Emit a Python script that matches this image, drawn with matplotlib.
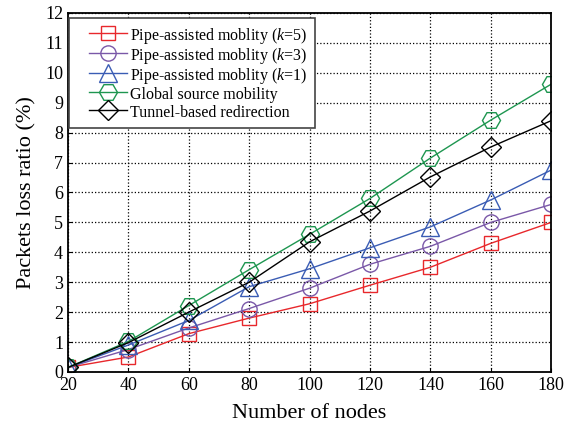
import matplotlib
matplotlib.use("Agg")
import matplotlib.pyplot as plt
from matplotlib.lines import Line2D
from matplotlib.legend_handler import HandlerLine2D

plt.rcParams['font.family'] = ['Liberation Serif', 'DejaVu Serif']
plt.rcParams['mathtext.fontset'] = 'custom'
plt.rcParams['mathtext.it'] = 'Liberation Serif:italic'
plt.rcParams['mathtext.rm'] = 'Liberation Serif'

# data
nodes = [20, 40, 60, 80, 100, 120, 140, 160, 180]
pipe_k5 = [0.15, 0.5, 1.28, 1.8, 2.28, 2.9, 3.5, 4.3, 5.0]
pipe_k3 = [0.15, 0.75, 1.47, 2.12, 2.8, 3.6, 4.2, 5.0, 5.6]
pipe_k1 = [0.15, 0.9, 1.72, 2.85, 3.45, 4.15, 4.85, 5.75, 6.75]
global_src = [0.15, 1.02, 2.22, 3.42, 4.6, 5.8, 7.15, 8.42, 9.62]
tunnel = [0.15, 0.98, 2.0, 3.0, 4.35, 5.38, 6.52, 7.52, 8.4]

labels = ["Pipe-assisted moblity ($k$=5)",
          "Pipe-assisted moblity ($k$=3)",
          "Pipe-assisted moblity ($k$=1)",
          "Global source mobility",
          "Tunnel-based redirection"]

fig = plt.figure(figsize=(5.76, 4.32), dpi=100)
ax = fig.add_axes([0.118, 0.139, 0.839, 0.831])

ax.plot(nodes, pipe_k5, color='#e8282c', marker='s', ms=10.5, mfc='none', lw=1, label=labels[0])
ax.plot(nodes, pipe_k3, color='#7a58a8', marker='o', ms=11, mfc='none', lw=1, label=labels[1])
ax.plot(nodes, pipe_k1, color='#3a5cb4', marker='^', ms=13, mfc='none', lw=1, label=labels[2])
ax.plot(nodes, global_src, color='#1e9650', marker='H', ms=13, mfc='none', lw=1, label=labels[3])
ax.plot(nodes, tunnel, color='black', marker='D', ms=10, mfc='none', lw=1, label=labels[4])

ax.set_xlim(20, 180)
ax.set_ylim(0, 12)
ax.set_xticks(nodes)
ax.set_yticks(range(0, 13))
ax.tick_params(labelsize=13, direction='in', length=3)
ax.grid(True, linestyle=':', color='black', linewidth=0.9)
for s in ax.spines.values():
    s.set_linewidth(1.3)

ax.set_xlabel("Number of nodes", fontsize=16, labelpad=7)
ax.set_ylabel("Packets loss ratio (%)", fontsize=16, labelpad=6)

# tall handle boxes keep the rows evenly spaced; handles shifted right
leg = ax.legend(loc='upper left', bbox_to_anchor=(0.002, 0.985), borderaxespad=0,
                fontsize=11.5, fancybox=False, edgecolor='#444444', framealpha=1,
                handlelength=3.2, handleheight=1.25, borderpad=0.45, labelspacing=0.0,
                handletextpad=0.2, handler_map={Line2D: HandlerLine2D(xpad=0.82)})
leg.get_frame().set_linewidth(1.2)

plt.savefig("out.png", dpi=100)
